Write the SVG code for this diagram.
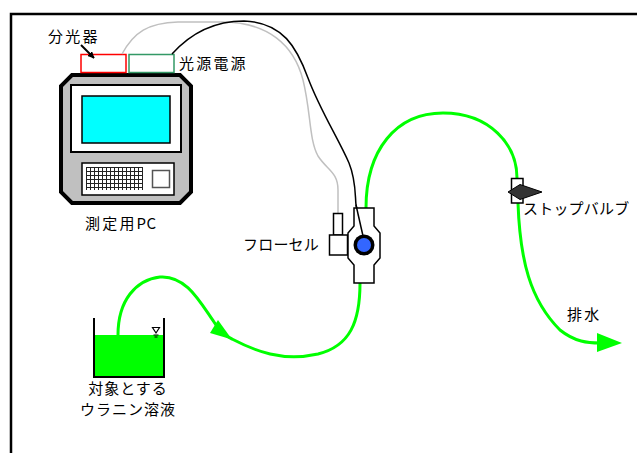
<svg xmlns="http://www.w3.org/2000/svg" width="637" height="453" viewBox="0 0 637 453">
  <style>
    .lbl { font-family: "Noto Sans CJK JP", "Liberation Sans", sans-serif; font-size: 15px; letter-spacing: 1px; fill: #000; }
    .wide { letter-spacing: 2.2px; }
    .kana { letter-spacing: 0.2px; }
    .tight { letter-spacing: 0.5px; }
    .tube { fill: none; stroke: #00ff00; stroke-width: 3; stroke-linecap: round; }
    .box { fill: #fff; stroke: #000; stroke-width: 1.5; }
  </style>
  <defs>
    <pattern id="keys" x="86" y="167" width="4" height="4" patternUnits="userSpaceOnUse">
      <rect width="4" height="4" fill="#fff"/>
      <path d="M0,0.5 H4 M0.5,0 V4" stroke="#222" stroke-width="1"/>
    </pattern>
    <marker id="arrowBlack" viewBox="0 0 10 10" refX="9" refY="5" markerWidth="7" markerHeight="7" orient="auto" markerUnits="userSpaceOnUse">
      <path d="M0,0 L10,5 L0,10 Z" fill="#000"/>
    </marker>
  </defs>

  <rect width="637" height="453" fill="#fff"/>
  <!-- frame -->
  <path d="M11,453 V14 H637" fill="none" stroke="#000" stroke-width="2.5"/>

  <!-- measurement PC -->
  <g id="pc">
    <polygon points="72,75 180,75 191,86 191,192 180,203 72,203 61,192 61,86" fill="#c0c0c0" stroke="#000" stroke-width="4"/>
    <rect x="71" y="85" width="110" height="67" fill="#fff" stroke="#000" stroke-width="2"/>
    <rect x="82" y="96" width="88" height="47" fill="#00ffff" stroke="#000" stroke-width="1.5"/>
    <rect x="82" y="163" width="92" height="32" fill="#fff" stroke="#000" stroke-width="1.5"/>
    <rect x="86" y="167" width="57" height="23" fill="url(#keys)"/>
    <rect x="152.5" y="170.5" width="17" height="17" fill="#fff" stroke="#555" stroke-width="1.5"/>
    <text class="lbl wide" x="85" y="229">測定用<tspan class="tight">PC</tspan></text>
  </g>

  <!-- spectrometer -->
  <g id="spectrometer">
    <rect x="81" y="54.5" width="45" height="18" fill="#fff" stroke="#ff0000" stroke-width="1.5"/>
    <text class="lbl wide" x="48" y="42">分光器</text>
    <line x1="81" y1="45" x2="94" y2="58" stroke="#000" stroke-width="2" marker-end="url(#arrowBlack)"/>
  </g>

  <!-- light source power supply -->
  <g id="light-source">
    <rect x="129" y="54.5" width="45" height="18" fill="#fff" stroke="#339966" stroke-width="1.5"/>
    <text class="lbl wide" x="179" y="68.5">光源電源</text>
  </g>

  <!-- connectors: fibres and tubing -->
  <g id="connectors">
    <path d="M122,54 C134,32 148,23 178,22 L222,22 C268,22 294,45 303,80 C311,112 309,140 318,156 C327,170 338,172 338,190 L338,213" fill="none" stroke="#c0c0c0" stroke-width="1.5"/>
    <path d="M172,54 C190,34 214,21 244,21 C283,22 297,48 308,78 C320,110 338,138 349,163 C356,180 355,195 356,205 L363,236" fill="none" stroke="#000" stroke-width="1.5"/>
    <path class="tube" d="M366,208 C366,150 396,113 443,113 C490,113 517,145 517,178"/>
    <path class="tube" d="M518,203 C520,260 530,300 560,330 C575,342 588,343 600,343"/>
    <polygon points="597,333 622,343 597,352" fill="#00ff00"/>
    <path class="tube" d="M118,335 C118,300 136,280 160,277 C186,275 200,302 214,322 C220,332 225,336 232,339 C255,351 282,362 318,354 C350,346 360,322 360,283"/>
    <polygon points="210,333 218,320 232,339.5" fill="#00ff00"/>
  </g>

  <!-- flow cell -->
  <g id="flow-cell">
    <rect class="box" x="333.5" y="213.5" width="9" height="21.5"/>
    <rect class="box" x="329.5" y="235" width="18" height="20"/>
    <polygon class="box" points="354,208 374,208 374,226 380,233 380,258 374,265 374,283 354,283 354,265 348,258 348,233 354,226"/>
    <circle cx="364" cy="245" r="10.5" fill="#000"/>
    <circle cx="364" cy="245" r="7" fill="#3366ff"/>
    <line x1="356" y1="205" x2="363" y2="236" stroke="#000" stroke-width="1.5"/>
    <text class="lbl kana" x="243" y="250">フローセル</text>
  </g>

  <!-- stop valve -->
  <g id="stop-valve">
    <rect class="box" x="511.5" y="178.5" width="11.5" height="24.5"/>
    <polygon points="508,192 520,184.5 542,192 520,199.5" fill="#333" stroke="#000" stroke-width="1"/>
    <text class="lbl kana" x="523" y="213.5">ストップバルブ</text>
  </g>

  <!-- drain -->
  <g id="drain">
    <text class="lbl wide" x="567" y="320">排水</text>
  </g>

  <!-- sample beaker -->
  <g id="sample">
    <rect x="94" y="335" width="70" height="42" fill="#00ff00"/>
    <path d="M94,318 V377 H164 V318" fill="none" stroke="#000" stroke-width="2"/>
    <path d="M152.5,327.5 H159.5 L156,333 Z" fill="none" stroke="#000" stroke-width="1.2"/>
    <path d="M153.5,335 H158.5 M154.5,337 H157.5" stroke="#000" stroke-width="1"/>
    <text class="lbl" x="128" y="393.5" text-anchor="middle">対象とする</text>
    <text class="lbl" x="128" y="415" text-anchor="middle">ウラニン溶液</text>
  </g>
</svg>
